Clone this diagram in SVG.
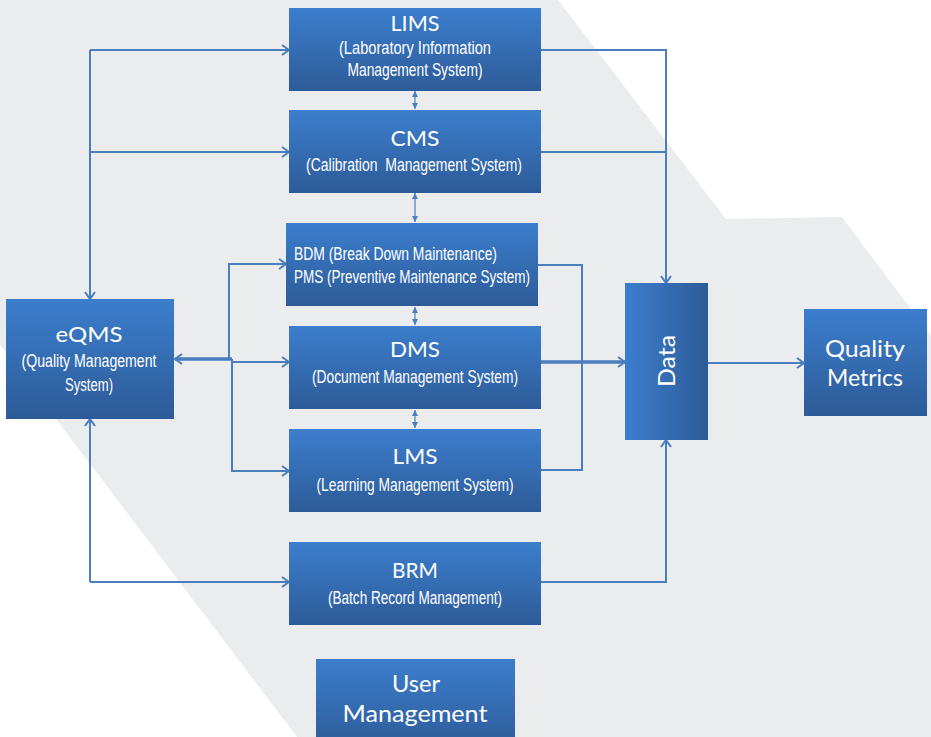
<svg xmlns="http://www.w3.org/2000/svg" width="931" height="737" viewBox="0 0 931 737">
<defs>
<linearGradient id="gv" x1="0" y1="0" x2="0" y2="1">
<stop offset="0" stop-color="#3C7ECD"/>
<stop offset="1" stop-color="#2D5B98"/>
</linearGradient>
<linearGradient id="gh" x1="0" y1="0" x2="1" y2="0">
<stop offset="0" stop-color="#3C7ECD"/>
<stop offset="1" stop-color="#2D5B98"/>
</linearGradient>
<marker id="arr" markerWidth="12" markerHeight="12" refX="10" refY="6" orient="auto" markerUnits="userSpaceOnUse">
<path d="M3,1 L10,6 L3,11" fill="none" stroke="#4A7EBF" stroke-width="2"/>
</marker>
<marker id="tri" markerWidth="8" markerHeight="8" refX="7" refY="4" orient="auto-start-reverse" markerUnits="userSpaceOnUse">
<path d="M1,1 L7,4 L1,7 z" fill="#4A7EBF"/>
</marker>
</defs>
<style>
.box{fill:url(#gv);}
.t{font-family:Lato,"Open Sans","Liberation Sans",sans-serif;fill:#fff;text-anchor:middle;font-size:22px;}
.s{font-family:"Liberation Sans",Arial,sans-serif;fill:#fff;text-anchor:middle;font-size:17.5px;}
.c{fill:none;stroke:#4A7EBF;stroke-width:2;}
.k{stroke-width:3.5;}
.d{fill:none;stroke:#4A7EBF;stroke-width:1.2;}
</style>
<rect x="0" y="0" width="931" height="737" fill="#EBECEE"/>
<polygon points="558,0 726,219 842,217 931,336 931,0" fill="#FFFFFF"/>
<polygon points="0,345 0,737 297,737" fill="#FFFFFF"/>

<g id="connectors">
<path class="c" d="M90,50 L90,299" marker-end="url(#arr)"/>
<path class="c" d="M90,50 L289,50" marker-end="url(#arr)"/>
<path class="c" d="M90,152 L289,152" marker-end="url(#arr)"/>
<path class="c" d="M90,582 L90,419" marker-end="url(#arr)"/>
<path class="c" d="M90,582 L289,582" marker-end="url(#arr)"/>
<path class="c k" d="M232,359 L175,359" marker-end="url(#arr)"/>
<path class="c" d="M229,359 L229,264 L286,264" marker-end="url(#arr)"/>
<path class="c" d="M232,359 L232,471 L289,471" marker-end="url(#arr)"/>
<path class="c" d="M232,362 L289,362" marker-end="url(#arr)"/>
<path class="c" d="M541,50 L666,50 L666,283" marker-end="url(#arr)"/>
<path class="c" d="M541,152 L666,152"/>
<path class="c" d="M538,265 L582,265 L582,470 L541,470"/>
<path class="c k" d="M541,362 L625,362" marker-end="url(#arr)"/>
<path class="c" d="M541,582 L666,582 L666,440" marker-end="url(#arr)"/>
<path class="c" d="M708,363 L804,363" marker-end="url(#arr)"/>
<path class="d" d="M415,91 L415,109" marker-start="url(#tri)" marker-end="url(#tri)"/>
<path class="d" d="M415,193 L415,222" marker-start="url(#tri)" marker-end="url(#tri)"/>
<path class="d" d="M415,307 L415,325" marker-start="url(#tri)" marker-end="url(#tri)"/>
<path class="d" d="M415,410 L415,428" marker-start="url(#tri)" marker-end="url(#tri)"/>
</g>

<g id="lims">
<rect class="box" x="289" y="8" width="252" height="83"/>
<text class="t" x="415" y="31" textLength="49" lengthAdjust="spacingAndGlyphs">LIMS</text>
<text class="s" x="415" y="54" textLength="152" lengthAdjust="spacingAndGlyphs">(Laboratory Information</text>
<text class="s" x="415" y="76" textLength="135" lengthAdjust="spacingAndGlyphs">Management System)</text>
</g>
<g id="cms">
<rect class="box" x="289" y="110" width="252" height="83"/>
<text class="t" x="415" y="146" textLength="49" lengthAdjust="spacingAndGlyphs">CMS</text>
<text class="s" x="414" y="171" textLength="216" lengthAdjust="spacingAndGlyphs" xml:space="preserve">(Calibration  Management System)</text>
</g>
<g id="bdm">
<rect class="box" x="286" y="223" width="252" height="83"/>
<text class="s" x="294" y="260" style="text-anchor:start" textLength="203" lengthAdjust="spacingAndGlyphs">BDM (Break Down Maintenance)</text>
<text class="s" x="294" y="283" style="text-anchor:start" textLength="236" lengthAdjust="spacingAndGlyphs">PMS (Preventive Maintenance System)</text>
</g>
<g id="dms">
<rect class="box" x="289" y="326" width="252" height="83"/>
<text class="t" x="415" y="357" textLength="50" lengthAdjust="spacingAndGlyphs">DMS</text>
<text class="s" x="415" y="383" textLength="206" lengthAdjust="spacingAndGlyphs">(Document Management System)</text>
</g>
<g id="lms">
<rect class="box" x="289" y="429" width="252" height="83"/>
<text class="t" x="415" y="464" textLength="45" lengthAdjust="spacingAndGlyphs">LMS</text>
<text class="s" x="415" y="491" textLength="197" lengthAdjust="spacingAndGlyphs">(Learning Management System)</text>
</g>
<g id="brm">
<rect class="box" x="289" y="542" width="252" height="83"/>
<text class="t" x="415" y="578" textLength="46" lengthAdjust="spacingAndGlyphs">BRM</text>
<text class="s" x="415" y="604" textLength="174" lengthAdjust="spacingAndGlyphs">(Batch Record Management)</text>
</g>
<g id="user">
<rect class="box" x="316" y="659" width="199" height="90"/>
<text class="t" x="416" y="692" style="font-size:24px" textLength="48" lengthAdjust="spacingAndGlyphs">User</text>
<text class="t" x="415" y="722" style="font-size:24px" textLength="145" lengthAdjust="spacingAndGlyphs">Management</text>
</g>
<g id="eqms">
<rect class="box" x="6" y="299" width="168" height="120"/>
<text class="t" x="89" y="342" textLength="67" lengthAdjust="spacingAndGlyphs">eQMS</text>
<text class="s" x="89" y="367" textLength="135" lengthAdjust="spacingAndGlyphs">(Quality Management</text>
<text class="s" x="89" y="391" textLength="48" lengthAdjust="spacingAndGlyphs">System)</text>
</g>
<g id="data">
<rect x="625" y="283" width="83" height="157" fill="url(#gh)"/>
<text class="t" transform="translate(675,361) rotate(-90)" x="0" y="0" style="font-size:24px" textLength="52" lengthAdjust="spacingAndGlyphs">Data</text>
</g>
<g id="metrics">
<rect class="box" x="804" y="309" width="123" height="107"/>
<text class="t" x="865" y="357" style="font-size:24px" textLength="80" lengthAdjust="spacingAndGlyphs">Quality</text>
<text class="t" x="865" y="386" style="font-size:24px" textLength="76" lengthAdjust="spacingAndGlyphs">Metrics</text>
</g>
</svg>
